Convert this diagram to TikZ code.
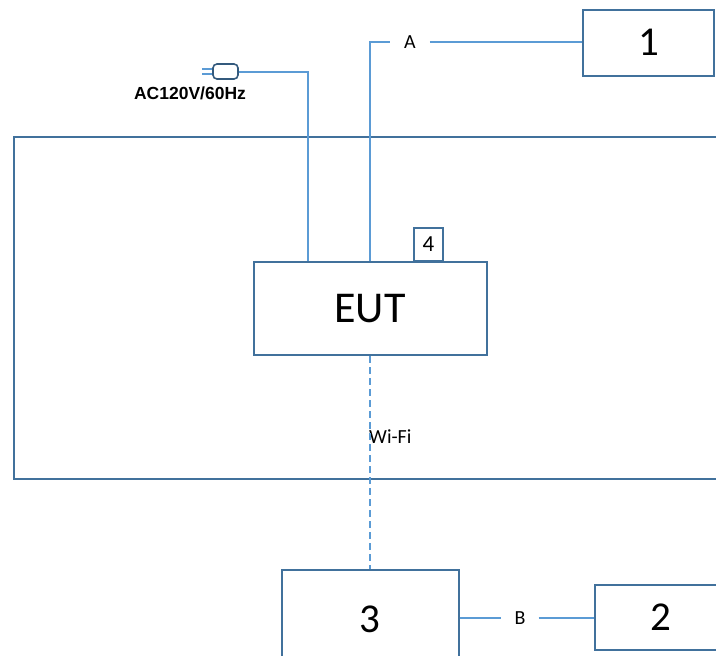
\documentclass[tikz,border=0pt]{standalone}
\usepackage{fontspec}
\setmainfont{Carlito}
\newfontfamily\arialfont{Liberation Sans}
\definecolor{BoxBlue}{HTML}{41719C}
\definecolor{LineBlue}{HTML}{5B9BD5}
\usepackage{tikz}

\begin{document}
\begin{tikzpicture}[x=1pt,y=-1pt,
    devbox/.style={draw=BoxBlue,line width=2pt,fill=white,inner sep=0pt},
    link/.style={draw=LineBlue,line width=2pt},
    wifi/.style={link,dash pattern=on 7pt off 4pt},
    lbl/.style={inner ysep=2pt,font=\fontsize{20}{24}\selectfont}]
  \useasboundingbox (0,0) rectangle (716,656);
  \clip (0,0) rectangle (716,656);

  % Room
  \draw[draw=BoxBlue,line width=2pt] (14,137) rectangle (740,479);

  % EUT and its part 4
  \node[devbox,minimum width=233pt,minimum height=93pt,font=\fontsize{44}{52}\selectfont] (eut) at (370,308.5) {EUT};
  \node[devbox,anchor=south west,minimum width=29pt,minimum height=33pt,font=\fontsize{23}{27}\selectfont] (part4) at (413,262) {4};

  % Other devices
  \node[devbox,minimum width=131pt,minimum height=66pt,font=\fontsize{41}{49}\selectfont] (dev1) at (648.5,42.5) {1};
  \node[devbox,minimum width=177pt,minimum height=98pt,font=\fontsize{41}{49}\selectfont] (dev3) at (370,619) {3};
  \node[devbox,minimum width=131pt,minimum height=65pt,font=\fontsize{41}{49}\selectfont] (dev2) at (660.5,617.5) {2};

  % Mains plug
  \node[draw=BoxBlue!80!black,line width=1.6pt,rounded corners=4pt,minimum width=25pt,minimum height=15pt,inner sep=0pt] (plug) at (225.5,71.5) {};
  \draw[draw=LineBlue,line width=1.4pt] ([yshift=-2.5pt]plug.west) -- ++(-10,0);
  \draw[draw=LineBlue,line width=1.4pt] ([yshift=2.5pt]plug.west) -- ++(-10,0);
  \node[font=\arialfont\bfseries\fontsize{17.5}{21}\selectfont] (mains) at (190,93) {AC120V/60Hz};

  % Labels
  \node[lbl,inner xsep=14pt] (lblA) at (410,42) {A};
  \node[lbl,inner xsep=13pt] (lblB) at (520,618) {B};
  \node[anchor=west,inner sep=0pt,font=\fontsize{20}{24}\selectfont] (lblWifi) at (369,437) {Wi-Fi};

  % Connections
  \draw[link] ([xshift=55pt]eut.north west) |- (plug.east);
  \draw[link] (eut.north) |- (lblA.west);
  \draw[link] (lblA.east) -- (dev1.west |- lblA.east);
  \draw[link] (dev3.east |- lblB.west) -- (lblB.west);
  \draw[link] (lblB.east) -- (dev2.west |- lblB.east);
  \draw[wifi] (eut.south) -- (dev3.north);
\end{tikzpicture}
\end{document}
